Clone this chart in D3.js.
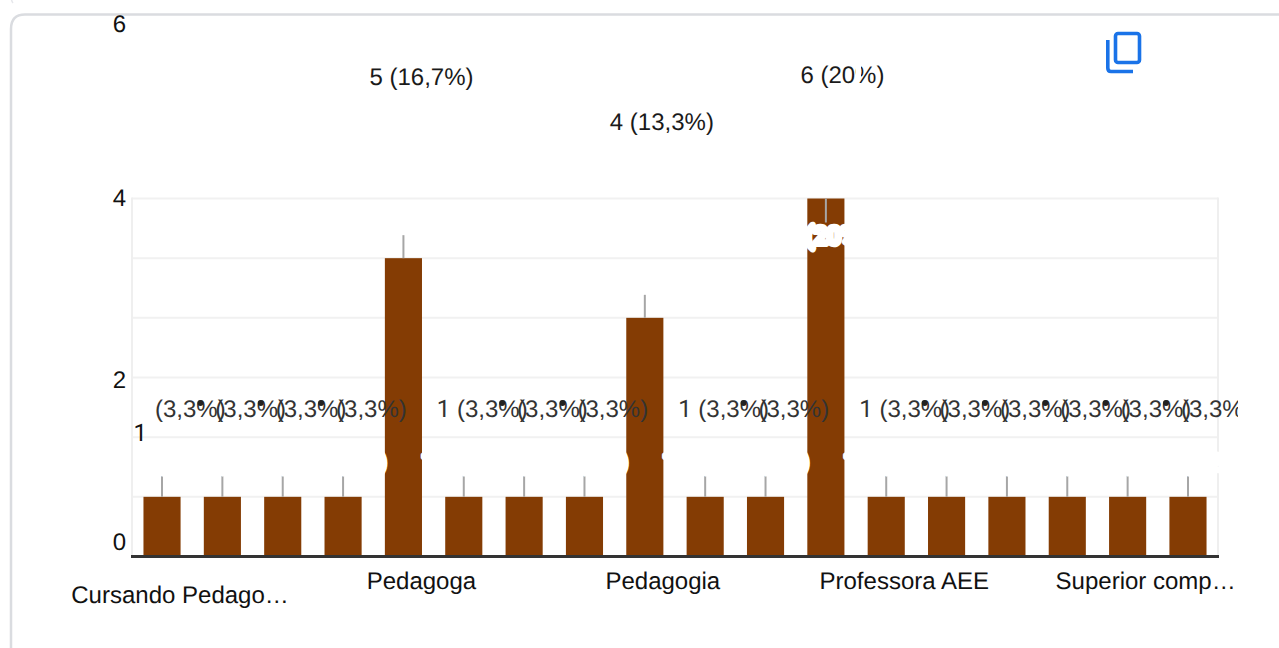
<!DOCTYPE html>
<html>
<head>
<meta charset="utf-8">
<script src="https://cdn.jsdelivr.net/npm/d3@7/dist/d3.min.js"></script>
<style>
html, body { margin: 0; padding: 0; background: #fff; overflow: hidden; }
svg { display: block; font-family: "Liberation Sans", Arial, sans-serif; font-size: 24px; text-rendering: geometricPrecision; }
/* the Liberation "1" has a foot the reference font does not have */
.one { font-family: Roboto, sans-serif; }
</style>
</head>
<body>
<div id="chart"></div>
<script>
// responses per answer, left to right
var values = [1, 1, 1, 1, 5, 1, 1, 1, 4, 1, 1, 6, 1, 1, 1, 1, 1, 1];
var percents = ["3,3%", "3,3%", "3,3%", "3,3%", "16,7%", "3,3%", "3,3%", "3,3%", "13,3%",
    "3,3%", "3,3%", "20%", "3,3%", "3,3%", "3,3%", "3,3%", "3,3%", "3,3%"];
// only every 4th answer gets a label on the axis
var categoryLabels = ["Cursando Pedago…", "Pedagoga", "Pedagogia", "Professora AEE", "Superior comp…"];
var gridValues = [0, 1, 2, 3, 4, 5, 6];
var tickLabels = [0, 1, 2, 4, 6];

var width = 1279,
    height = 648,
    plot = { left: 132, right: 1218, top: 198.5, bottom: 556.5 },
    barColor = "#843c04";

var svg = d3.select("#chart").append("svg")
    .attr("width", width)
    .attr("height", height);

var defs = svg.append("defs");
defs.append("clipPath").attr("id", "plot-clip").append("rect")
    .attr("x", plot.left + 2).attr("y", 0)
    .attr("width", plot.right - plot.left - 1).attr("height", height);
defs.append("clipPath").attr("id", "label-clip").append("rect")
    .attr("x", 0).attr("y", 0)
    .attr("width", 1238).attr("height", height);

var x = d3.scaleBand()
    .domain(d3.range(values.length))
    .range([plot.left, plot.right])
    .paddingInner(0.385)
    .paddingOuter(0.19);

var y = d3.scaleLinear().domain([0, 6]).range([plot.bottom, plot.top]);

// the labels sit away from the scale in the picture, so they get their own
var tickLabelY = d3.scaleLinear().domain(tickLabels).range([550, 441, 388, 206, 32]);
var outsideY = d3.scaleOrdinal().domain([1, 4, 5, 6]).range([417, 130, 85, 83]);
var outsideDx = d3.scaleOrdinal().domain([1, 4, 5, 6]).range([-27, -35, -34, -25.5]);
var insideY = d3.scaleOrdinal().domain([1, 6]).range([470, 244]);

function center(i) {
    return x(i) + x.bandwidth() / 2;
}

function label(i) {
    return values[i] + " (" + percents[i] + ")";
}

// the "1" only shows when the bar before is not a label of the same row
function showsCount(i) {
    return values[i] !== 1 || (i > 0 && values[i - 1] !== 1);
}

// card outlines
svg.append("path")
    .attr("d", "M10.5,-10 Q10.5,0 13,3")
    .attr("fill", "none")
    .attr("stroke", "#e6e7eb")
    .attr("stroke-width", 1.5);
svg.append("path")
    .attr("d", "M11,648 V29 Q11,14.5 25,14.5 H1279")
    .attr("fill", "none")
    .attr("stroke", "#dadce0")
    .attr("stroke-width", 2.5);

// grid
svg.append("g")
    .attr("class", "grid")
    .attr("transform", "translate(" + plot.left + ",-0.5)")
    .call(d3.axisLeft(y).tickValues(gridValues).tickSize(-(plot.right - plot.left)).tickFormat(""))
    .call(function (g) {
        g.select(".domain").remove();
        g.selectAll("line").attr("stroke", "#f1f1f1").attr("stroke-width", 2);
    });

svg.append("g").selectAll("line")
    .data([plot.left, plot.right])
    .enter()
    .append("line")
    .attr("x1", function (d) { return d; })
    .attr("x2", function (d) { return d; })
    .attr("y1", plot.top - 1)
    .attr("y2", plot.bottom)
    .attr("stroke", "#efefef")
    .attr("stroke-width", 2);

// bars
svg.append("g").selectAll("rect")
    .data(values)
    .enter()
    .append("rect")
    .attr("x", function (d, i) { return x(i); })
    .attr("y", function (d) { return y(d); })
    .attr("width", x.bandwidth())
    .attr("height", function (d) { return y(0) - y(d); })
    .attr("fill", barColor);

// leader lines, the tallest bar has no room so its line runs down inside the bar
svg.append("g").selectAll("line")
    .data(values)
    .enter()
    .append("line")
    .attr("x1", function (d, i) { return center(i); })
    .attr("x2", function (d, i) { return center(i); })
    .attr("y1", function (d) { return y(d); })
    .attr("y2", function (d) { return d === 6 ? y(d) + 24 : y(d) - 23; })
    .attr("stroke", "#a6a6a6")
    .attr("stroke-width", 2);

// white labels with halo, they only show where they bite into the bars
var insideIdx = d3.range(values.length).filter(function (i) {
    return values[i] === 1 || values[i] === 6;
});

svg.append("g")
    .attr("clip-path", "url(#plot-clip)")
    .selectAll("text")
    .data(insideIdx)
    .enter()
    .append("text")
    .attr("class", "one")
    .attr("x", function (i) { return center(i) + 0.5; })
    .attr("y", function (i) { return insideY(values[i]); })
    .attr("text-anchor", "middle")
    .attr("fill", "#fff")
    .attr("stroke", "#fff")
    .attr("stroke-width", 6)
    .attr("stroke-linejoin", "round")
    .text(label);

// outside labels
var outsideLabels = svg.append("g").attr("clip-path", "url(#label-clip)");

var outsideText = outsideLabels.selectAll("text")
    .data(d3.range(values.length))
    .enter()
    .append("text")
    .attr("x", function (i) {
        return center(i) + outsideDx(values[i]) + (showsCount(i) ? 0 : 20);
    })
    .attr("y", function (i) { return outsideY(values[i]); })
    .attr("fill", function (i) { return values[i] === 1 ? "#333" : "#1a1a1a"; });

outsideText.filter(function (i) { return showsCount(i); })
    .append("tspan")
    .attr("class", function (i) { return values[i] === 1 ? "one" : null; })
    .text(function (i) { return values[i]; });

outsideText.append("tspan")
    .text(function (i) {
        return (showsCount(i) ? " " : "") + "(" + percents[i] + ")";
    });

// the hidden "1" leaves a dark blot on the percent sign of the label before it
outsideLabels.selectAll("circle")
    .data(d3.range(1, values.length).filter(function (i) {
        return !showsCount(i);
    }))
    .enter()
    .append("circle")
    .attr("cx", function (i) { return center(i) - 22; })
    .attr("cy", outsideY(1) - 14)
    .attr("r", 3)
    .attr("fill", "#222");

// small white gap through the 20% label
svg.append("line")
    .attr("x1", 858.5).attr("x2", 858.5)
    .attr("y1", 62).attr("y2", 78)
    .attr("stroke", "#fff")
    .attr("stroke-width", 5);

// y labels
svg.append("g").selectAll("text")
    .data(tickLabels)
    .enter()
    .append("text")
    .attr("class", function (d) { return d === 1 ? "one" : null; })
    .attr("x", function (d) { return d === 1 ? 147 : 126; })
    .attr("y", tickLabelY)
    .attr("text-anchor", "end")
    .attr("fill", "#111")
    .text(function (d) { return d; });

// x axis
var xTicks = d3.range(0, values.length, 4).filter(function (i) {
    return categoryLabels[i / 4];
});

svg.append("g")
    .attr("class", "x axis")
    .attr("transform", "translate(18," + plot.bottom + ")")
    .call(d3.axisBottom(x).tickValues(xTicks).tickSize(0).tickFormat(function (i) {
        return categoryLabels[i / 4];
    }))
    .call(function (g) {
        g.select(".domain").remove();
        g.selectAll("text")
            .attr("font-size", 24)
            .attr("font-family", "Liberation Sans")
            .attr("fill", "#111")
            .attr("dy", null)
            .attr("y", function (i) { return i === 0 ? 46 : 32; });
    });

svg.append("line")
    .attr("x1", plot.left - 1)
    .attr("x2", plot.right + 1)
    .attr("y1", plot.bottom)
    .attr("y2", plot.bottom)
    .attr("stroke", "#333")
    .attr("stroke-width", 3);

// copy icon
var icon = svg.append("g")
    .attr("fill", "none")
    .attr("stroke", "#1a73e8")
    .attr("stroke-width", 3.6);
icon.append("rect")
    .attr("x", 1115.5).attr("y", 33.5)
    .attr("width", 24).attr("height", 29)
    .attr("rx", 2.5);
icon.append("path")
    .attr("d", "M1107.8,40 V68 Q1107.8,71.5 1111,71.5 H1133");
</script>
</body>
</html>
